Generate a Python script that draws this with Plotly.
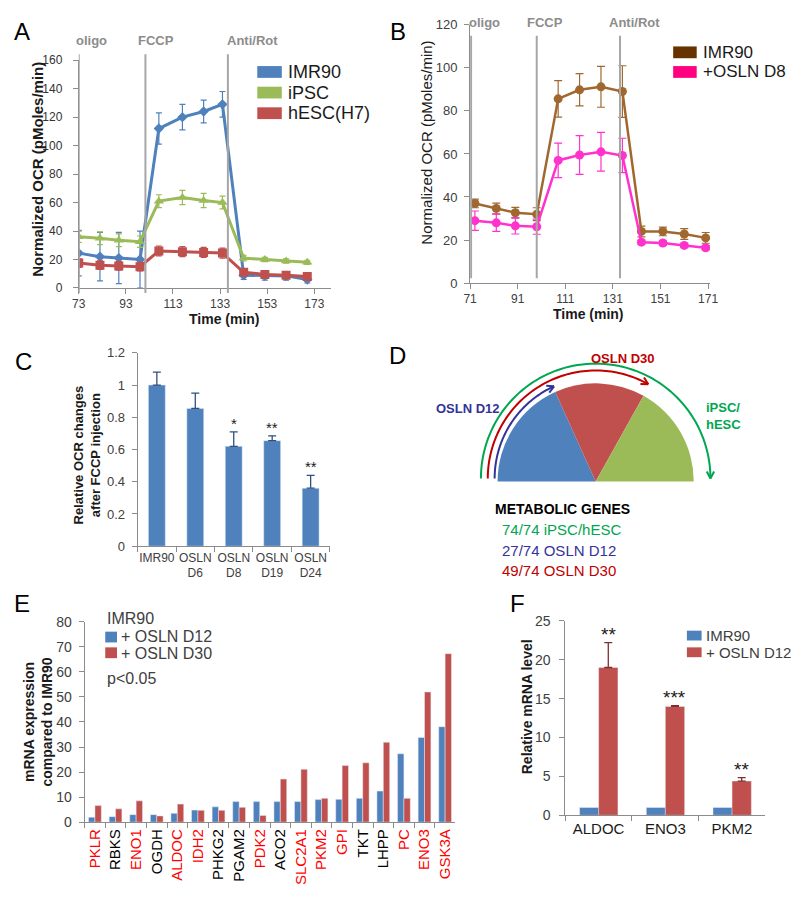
import math
import plotly.graph_objects as go

# page is rendered with an 8px body margin; figure is placed so page pixels map exactly
OX, OY = 8, 8
FW, FH = 784, 884
FONT = "Arial, 'Liberation Sans', Helvetica, sans-serif"

# ---------------- DATA ----------------
# Panel A
a_time = [73, 82, 90, 99, 107, 117, 126, 134, 143, 152, 161, 170]
a_imr90 = [24.5, 22, 21, 20, 112, 120, 124, 129, 9, 8.5, 8.5, 6]
a_imr90_err = [16, 17, 18, 20, 11, 9, 8, 9, 3, 3, 3, 2.5]
a_ipsc = [36, 35, 33.5, 32.5, 61, 63.5, 61.5, 60, 21, 20, 19, 18]
a_ipsc_err = [4, 4.5, 4.5, 4, 4.5, 5, 5, 4.5, 2, 1.5, 1.5, 1.5]
a_hesc = [17.5, 16, 15.5, 15, 26, 25.5, 25, 24.5, 11, 9.5, 9, 8]
a_hesc_err = [3, 3, 3, 3, 3.5, 3.5, 3.5, 3.5, 2, 2, 2, 2]
a_injections = [73, 101.3, 136.3]
a_injection_labels = ["oligo", "FCCP", "Anti/Rot"]
a_ticks = [73, 93, 113, 133, 153, 173]

# Panel B
b_time = [73, 82, 90, 99, 108, 117, 126, 135, 143, 152, 161, 170]
b_imr90 = [37, 34.7, 32.7, 32, 85.6, 89.8, 91.2, 89, 24, 24, 22.8, 21]
b_imr90_err = [2, 2.5, 2.5, 3, 8.5, 7.5, 9.5, 12, 2.5, 2, 2.5, 2.5]
b_osln = [29, 28, 26.6, 26.2, 57, 59.5, 61, 59.3, 19, 18.6, 17.5, 16.4]
b_osln_err = [4.5, 4, 3.8, 3.5, 8, 9, 9, 8, 1, 1, 1, 1]
b_injections = [71.4, 99, 134]
b_injection_labels = ["oligo", "FCCP", "Anti/Rot"]
b_ticks = [71, 91, 111, 131, 151, 171]

# Panel C
c_groups = ["IMR90", "OSLN<br>D6", "OSLN<br>D8", "OSLN<br>D19", "OSLN<br>D24"]
c_values = [1.0, 0.855, 0.62, 0.655, 0.36]
c_err = [0.08, 0.095, 0.09, 0.03, 0.08]
c_stars = ["", "", "*", "**", "**"]

# Panel D
d_total = 74
d_osln_d12 = 27
d_osln_d30 = 49
d_ipsc = 74

# Panel E
e_genes = ["PKLR", "RBKS", "ENO1", "OGDH", "ALDOC", "IDH2", "PHKG2", "PGAM2", "PDK2",
           "ACO2", "SLC2A1", "PKM2", "GPI", "TKT", "LHPP", "PC", "ENO3", "GSK3A"]
e_highlight = [True, False, True, False, True, True, False, False, True,
               False, True, True, True, False, False, True, True, True]
e_d12 = [2, 2.2, 3, 3, 3.5, 4.8, 6.1, 8.2, 8.2, 8.2, 8.2, 9, 9.1, 9.5, 12.4, 27.3, 33.8, 38.1]
e_d30 = [6.6, 5.3, 8.5, 2.5, 7.2, 4.7, 4.7, 5.9, 2.7, 17.2, 21.1, 9.5, 22.6, 23.7, 31.9, 9.5, 52, 67.3]

# Panel F
f_genes = ["ALDOC", "ENO3", "PKM2"]
f_imr90 = [1, 1, 1]
f_osln = [19.0, 14.0, 4.4]
f_osln_err = [3.2, 0.1, 0.45]
f_stars = ["**", "***", "**"]

BLUE = "#4F81BD"
RED = "#C0504D"
GREEN = "#9BBB59"
AXC = "#8C8C8C"
TXT = "#404040"


def px(x):
    return (x - OX) / FW


def py(y):
    return 1 - (y - OY) / FH


def dx(a, b):
    return [px(a), px(b)]


def dy(top, bottom):
    return [py(bottom), py(top)]


fig = go.Figure()

# ---------------- Panel A ----------------
for name, vals, errs, col, sym, ms in [
    ("IMR90", a_imr90, a_imr90_err, BLUE, "diamond", 8),
    ("iPSC", a_ipsc, a_ipsc_err, GREEN, "triangle-up", 9),
    ("hESC(H7)", a_hesc, a_hesc_err, RED, "square", 9),
]:
    fig.add_trace(go.Scatter(
        x=a_time, y=vals, mode="lines+markers", name=name, xaxis="x", yaxis="y",
        line=dict(color=col, width=3), marker=dict(symbol=sym, size=ms, color=col),
        error_y=dict(type="data", array=errs, color=col, thickness=1.2, width=3),
        showlegend=False))

# ---------------- Panel B ----------------
BROWN = "#A0682F"
PINK = "#FF33CC"
for name, vals, errs, col in [
    ("IMR90", b_imr90, b_imr90_err, BROWN),
    ("+OSLN D8", b_osln, b_osln_err, PINK),
]:
    fig.add_trace(go.Scatter(
        x=b_time, y=vals, mode="lines+markers", name=name, xaxis="x2", yaxis="y2",
        line=dict(color=col, width=2.5), marker=dict(symbol="circle", size=9, color=col),
        error_y=dict(type="data", array=errs, color=col, thickness=1.2, width=4),
        showlegend=False))

# ---------------- Panel C ----------------
fig.add_trace(go.Bar(
    x=c_groups, y=c_values, xaxis="x3", yaxis="y3", marker=dict(color=BLUE), width=0.44,
    error_y=dict(type="data", array=c_err, arrayminus=[0] * len(c_err), symmetric=False,
                 color="#2F4F7F", thickness=1.3, width=4),
    showlegend=False))

# ---------------- Panel D (semicircle pie) ----------------
fig.add_trace(go.Pie(
    values=[d_osln_d12, d_osln_d30 - d_osln_d12, d_ipsc - d_osln_d30, d_total],
    labels=["OSLN D12", "OSLN D30", "iPSC/hESC", "rest"],
    marker=dict(colors=[BLUE, RED, GREEN, "rgba(0,0,0,0)"], line=dict(width=0)),
    sort=False, direction="clockwise", rotation=-90, textinfo="none",
    hoverinfo="skip", showlegend=False,
    domain=dict(x=dx(500, 700), y=dy(382, 582))))

# ---------------- Panel E ----------------
e_ticktext = [f'<span style="color:{"#FF0000" if h else "#000000"}">{g}</span>'
              for g, h in zip(e_genes, e_highlight)]
fig.add_trace(go.Bar(x=e_genes, y=e_d12, name="+ OSLN D12", xaxis="x4", yaxis="y4",
                     marker=dict(color=BLUE), showlegend=False, width=0.31, offset=-0.31))
fig.add_trace(go.Bar(x=e_genes, y=e_d30, name="+ OSLN D30", xaxis="x4", yaxis="y4",
                     marker=dict(color=RED), showlegend=False, width=0.31, offset=0.0))

# ---------------- Panel F ----------------
fig.add_trace(go.Bar(x=f_genes, y=f_imr90, name="IMR90", xaxis="x5", yaxis="y5",
                     marker=dict(color=BLUE), showlegend=False, width=0.29, offset=-0.285))
fig.add_trace(go.Bar(x=f_genes, y=f_osln, name="+ OSLN D12", xaxis="x5", yaxis="y5",
                     marker=dict(color=RED), showlegend=False, width=0.29, offset=0.0,
                     error_y=dict(type="data", array=f_osln_err,
                                  arrayminus=[0] * len(f_osln_err), symmetric=False,
                                  color="#7F2F2F", thickness=1.3, width=4)))


def axis(domain, anchor, size=12, **kw):
    d = dict(domain=domain, anchor=anchor, showline=True, linecolor=AXC, linewidth=1,
             ticks="outside", tickcolor=AXC, ticklen=5, showgrid=False, zeroline=False,
             tickfont=dict(family=FONT, size=size, color=TXT), fixedrange=True)
    d.update(kw)
    return d


shapes = []
ann = []


def text(x, y, s, size=13, color="#000000", bold=False, xanchor="center", yanchor="middle",
         angle=0, align="center", pad=1):
    if bold:
        s = f"<b>{s}</b>"
    ann.append(dict(x=px(x), y=py(y), xref="paper", yref="paper", text=s, showarrow=False,
                    font=dict(family=FONT, size=size, color=color), xanchor=xanchor,
                    yanchor=yanchor, textangle=angle, align=align, borderpad=pad))


def rect(x0, y0, x1, y1, color):
    shapes.append(dict(type="rect", xref="paper", yref="paper", x0=px(x0), x1=px(x1),
                       y0=py(y1), y1=py(y0), fillcolor=color, line=dict(width=0)))


# Panel A layout items
for t in a_injections:
    shapes.append(dict(type="line", xref="x", yref="paper", x0=t, x1=t, y0=py(290), y1=py(47),
                       line=dict(color="#A6A6A6", width=2)))
for lab, xc in zip(a_injection_labels, [86, 152, 250]):
    text(xc, 33, lab, size=13, color="#8C8C8C", bold=True)
text(31, 164, "Normalized OCR (pMoles/min)", size=15, bold=True, angle=-90, color="#1a1a1a")
text(222, 317, "Time (min)", size=14, bold=True, color="#1a1a1a")
for lab, col, yc in [("IMR90", BLUE, 65), ("iPSC", GREEN, 86), ("hESC(H7)", RED, 107)]:
    rect(255, yc - 6, 280, yc + 6, col)
    text(285, yc, lab, size=18, color="#1a1a1a", xanchor="left", pad=0)

# Panel B layout items
for t in b_injections:
    shapes.append(dict(type="line", xref="x2", yref="paper", x0=t, x1=t, y0=py(275), y1=py(28),
                       line=dict(color="#A6A6A6", width=2)))
for lab, xc in zip(b_injection_labels, [487, 548, 640]):
    text(xc, 15, lab, size=13, color="#8C8C8C", bold=True)
text(428, 137, "Normalized OCR (pMoles/min)", size=15, angle=-90, color="#1a1a1a")
text(593, 312, "Time (min)", size=14, bold=True, color="#1a1a1a")
for lab, col, yc in [("IMR90", "#663300", 45), ("+OSLN D8", "#FF0080", 65)]:
    rect(679, yc - 6, 703, yc + 6, col)
    text(708, yc, lab, size=17, color="#1a1a1a", xanchor="left", pad=0)

# Panel C
text(81, 455, "Relative OCR changes<br>after FCCP injection", size=13, bold=True, angle=-90,
     color="#1a1a1a")
for g, v, e, s in zip(c_groups, c_values, c_err, c_stars):
    if s:
        ann.append(dict(x=g, y=v + e, xref="x3", yref="y3", text=s, showarrow=False,
                        yanchor="bottom", yshift=-2,
                        font=dict(family=FONT, size=15, color="#1a1a1a")))

# Panel D arcs
cx, cy = 600, 479


def arc(r, a0, a1, color):
    n = 80
    pts = []
    for i in range(n + 1):
        a = math.radians(a0 + (a1 - a0) * i / n)
        pts.append((cx + r * math.cos(a), cy - r * math.sin(a)))
    path = "M " + " L ".join(f"{px(x):.5f},{py(y):.5f}" for x, y in pts)
    shapes.append(dict(type="path", xref="paper", yref="paper", path=path,
                       line=dict(color=color, width=2)))
    th = math.radians(a1)
    tx, ty = pts[-1]
    bx, by = -math.sin(th), -math.cos(th)
    for sgn in (1, -1):
        ang = math.radians(28) * sgn
        rx = bx * math.cos(ang) - by * math.sin(ang)
        ry = bx * math.sin(ang) + by * math.cos(ang)
        hx, hy = tx + 8 * rx, ty + 8 * ry
        shapes.append(dict(type="line", xref="paper", yref="paper", x0=px(tx), y0=py(ty),
                           x1=px(hx), y1=py(hy), line=dict(color=color, width=2)))


arc(117, 180, 180 - 180 * d_ipsc / d_total, "#00A650")
arc(110, 180, 180 - 180 * d_osln_d30 / d_total, "#C00000")
arc(103, 180, 180 - 180 * d_osln_d12 / d_total, "#333399")
text(628, 357, "OSLN D30", size=13, bold=True, color="#C00000")
text(470, 408, "OSLN D12", size=13, bold=True, color="#333399")
text(710, 415, "iPSC/<br>hESC", size=13, bold=True, color="#00A650", xanchor="left", align="left")
text(495, 510, "METABOLIC GENES", size=14, bold=True, color="#000000", xanchor="left")
text(502, 531, f"{d_ipsc}/{d_total} iPSC/hESC", size=15, color="#00A650", xanchor="left")
text(502, 552, f"{d_osln_d12}/{d_total} OSLN D12", size=15, color="#333399", xanchor="left")
text(502, 573, f"{d_osln_d30}/{d_total} OSLN D30", size=15, color="#C00000", xanchor="left")

# Panel E
text(31, 727, "mRNA expression<br>compared to IMR90", size=14, bold=True, angle=-90,
     color="#1a1a1a")
text(100, 622, "IMR90", size=16, color=TXT, xanchor="left")
rect(100, 635, 112, 646, BLUE)
text(114, 640, "+ OSLN D12", size=16, color=TXT, xanchor="left")
rect(100, 651, 112, 662, RED)
text(114, 657, "+ OSLN D30", size=16, color=TXT, xanchor="left")
text(100, 683, "p<0.05", size=16, color=TXT, xanchor="left")

# Panel F
text(530, 712, "Relative mRNA level", size=14, bold=True, angle=-90, color="#1a1a1a")
rect(693, 634, 708, 644, BLUE)
text(710, 639, "IMR90", size=15, color=TXT, xanchor="left")
rect(693, 651, 708, 661, RED)
text(710, 656, "+ OSLN D12", size=15, color=TXT, xanchor="left")
for g, v, e, s in zip(f_genes, f_osln, f_osln_err, f_stars):
    ann.append(dict(x=g, y=v + e, xref="x5", yref="y5", text=s, showarrow=False,
                    yanchor="bottom", yshift=-4, xshift=9.5,
                    font=dict(family=FONT, size=19, color="#1a1a1a")))

# Panel letters
for lab, x, y in [("A", 15, 24), ("B", 398, 24), ("C", 17, 360), ("D", 398, 354),
                  ("E", 15, 606), ("F", 520, 606)]:
    text(x, y, lab, size=24, color="#000000")

fig.update_layout(
    width=FW, height=FH, margin=dict(l=0, r=0, t=0, b=0),
    paper_bgcolor="white", plot_bgcolor="white",
    font=dict(family=FONT, color=TXT),
    barmode="group",
    xaxis=axis(dx(73, 330), "y", size=12, range=[73, 180], tickvals=a_ticks),
    yaxis=axis(dy(53, 285), "x", size=12, range=[0, 160], dtick=20, ticklabelstandoff=8,
               tickfont=dict(family=FONT, size=12, color="#333333")),
    xaxis2=axis(dx(472, 717), "y2", size=12, range=[71, 172], tickvals=b_ticks),
    yaxis2=axis(dy(17, 280), "x2", size=13, range=[0, 120], dtick=20, ticklabelstandoff=4),
    xaxis3=axis(dx(133, 329), "y3", size=12, type="category", tickson="boundaries",
                tickangle=0),
    yaxis3=axis(dy(351, 548), "x3", size=13, range=[0, 1.2], dtick=0.2, tickformat="~g",
                ticklabelstandoff=4),
    xaxis4=axis(dx(79, 457), "y4", size=15, type="category", tickson="boundaries",
                tickangle=-90, tickmode="array", tickvals=e_genes, ticktext=e_ticktext),
    yaxis4=axis(dy(625, 829), "x4", size=14, range=[0, 80], dtick=10, ticklabelstandoff=4),
    xaxis5=axis(dx(569, 773), "y5", size=15, type="category", tickson="boundaries",
                tickangle=0, tickfont=dict(family=FONT, size=15, color="#1a1a1a")),
    yaxis5=axis(dy(624, 822), "x5", size=14, range=[0, 25], dtick=5, ticklabelstandoff=6),
    shapes=shapes, annotations=ann,
)

fig.write_html("out.html")
